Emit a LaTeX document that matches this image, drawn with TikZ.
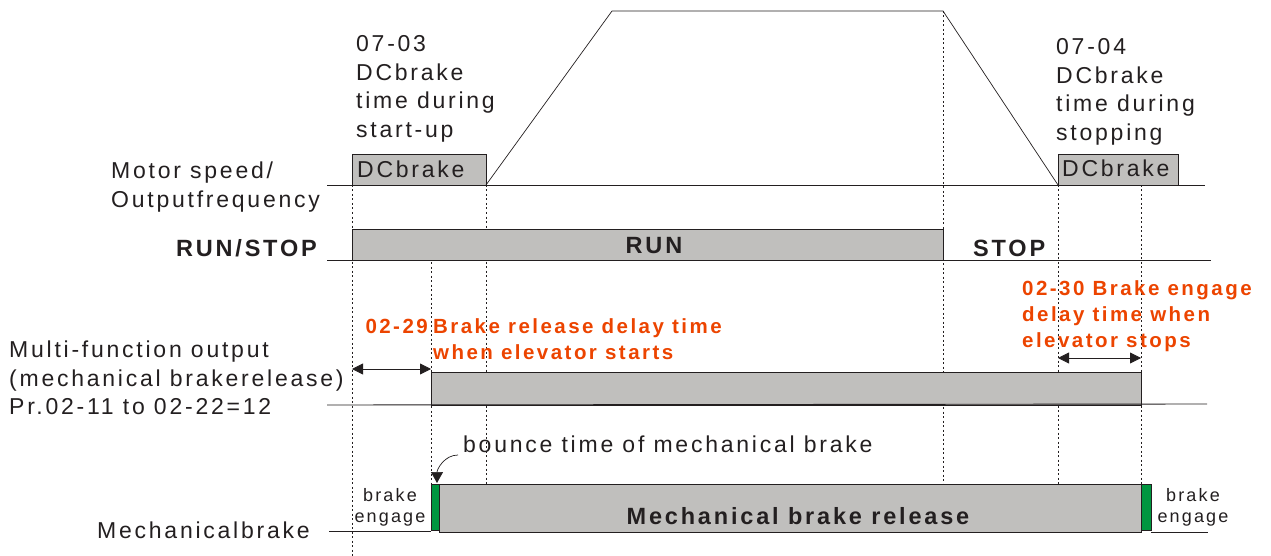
\documentclass[tikz,border=0pt]{standalone}
\usepackage{fontspec}
\setmainfont{Liberation Sans}[LetterSpace=12]
\usetikzlibrary{arrows.meta}
\definecolor{boxgray}{RGB}{192,191,189}
\definecolor{delayred}{RGB}{236,68,0}
\definecolor{bouncegreen}{RGB}{0,150,64}
\definecolor{inkblack}{RGB}{35,31,32}
\tikzset{
  lbl/.style={font=\fontsize{23}{28.5}\selectfont,text=inkblack,inner sep=0pt,align=left},
  boldlbl/.style={font=\fontsize{23.5}{28}\bfseries\selectfont,text=inkblack,inner sep=0pt},
  redlbl/.style={font=\fontsize{20.5}{26}\bfseries\selectfont,text=delayred,inner sep=0pt,align=left},
  smalllbl/.style={font=\fontsize{18}{21}\selectfont,text=inkblack,inner sep=0pt,align=center},
  sig/.style={draw=inkblack,line width=0.9pt},
  timeline/.style={draw=inkblack,line width=0.6pt,dash pattern=on 2pt off 2.5pt},
  delay/.style={draw=inkblack,line width=0.8pt,{Triangle[width=11pt,length=11pt]}-{Triangle[width=11pt,length=11pt]}},
}
\begin{document}
\begin{tikzpicture}[x=1pt,y=-1pt]
\useasboundingbox (0,0) rectangle (1271,556);
% time marks:
\path[timeline] (352,185) -- (352,556);
\path[timeline] (431,262) -- (431,484);
\path[timeline] (486,185) -- (486,484);
\path[timeline] (943,11) -- (943,484);
\path[timeline] (1058,185) -- (1058,484);
\path[timeline] (1141,185) -- (1141,484);
% motor speed:
\path[draw=inkblack,fill=boxgray,line width=0.8pt] (352,185) rectangle (486,154);
\path[draw=inkblack,fill=boxgray,line width=0.8pt] (1058,185) rectangle (1178,154);
\path[sig] (327,185) -- (1205,185);
\path[draw=inkblack,line width=0.7pt] (486,185) -- (612,11) -- (943,11) -- (1058,185);
% run/stop:
\path[draw=inkblack,fill=boxgray,line width=0.8pt] (352,260) rectangle (943,229);
\path[sig] (327,260) -- (1211,260);
% multi-function output:
\path[draw=inkblack,fill=boxgray,line width=0.8pt] (431,405) rectangle (1141,372);
\path[sig] (327,405) -- (1207,404);
% mechanical brake:
\path[draw=inkblack,fill=boxgray,line width=0.8pt] (439,532) rectangle (1141,484);
\path[draw=inkblack,fill=bouncegreen,line width=0.8pt] (431,530) rectangle (439,484);
\path[draw=inkblack,fill=bouncegreen,line width=0.8pt] (1141,530) rectangle (1151,484);
\path[sig] (329,531) -- (431,531);
\path[sig] (1151,532) -- (1208,532);

% labels
\node[lbl,anchor=north west] (dcup) at (356,35.5) {07-03\\DCbrake\\time during\\start-up};
\node[lbl,anchor=north west] (dcdown) at (1056,38.5) {07-04\\DCbrake\\time during\\stopping};
\node[lbl,anchor=base west] (dcupbox) at (357,178) {DCbrake};
\node[lbl,anchor=base west] (dcdownbox) at (1062,177) {DCbrake};
\node[lbl,anchor=north west] (speed) at (111,162) {Motor speed/\\Outputfrequency};
\node[boldlbl,anchor=base east] (runstop) at (317,256) {RUN/STOP};
\node[boldlbl,anchor=base] (run) at (654,253) {RUN};
\node[boldlbl,anchor=base west] (stop) at (973,256) {STOP};
\node[lbl,anchor=north west] (mfo) at (9,341) {Multi-function output\\(mechanical brakerelease)\\Pr.02-11 to 02-22=12};
\node[redlbl,anchor=base east] (relno) at (428,333) {02-29};
\node[redlbl,anchor=north west] (reltxt) at (433,318.5) {Brake release delay time\\when elevator starts};
\node[redlbl,anchor=north west] (engtxt) at (1022,280.5) {02-30 Brake engage\\delay time when\\elevator stops};
\node[lbl,anchor=base west] (bounce) at (463,452) {bounce time of mechanical brake};
\node[lbl,anchor=base west] (mech) at (97,538) {Mechanicalbrake};
\node[boldlbl,anchor=base] (mechrel) at (798,524) {Mechanical brake release};
\node[smalllbl,anchor=north] (engl) at (390,488) {brake\\engage};
\node[smalllbl,anchor=north] (engr) at (1193,488) {brake\\engage};

% delay arrows
\coordinate (rel0) at (352,369);
\coordinate (rel1) at (431,369);
\coordinate (eng0) at (1058,358);
\coordinate (eng1) at (1141,358);
\coordinate (bouncetip) at (437,483);
\path[delay] (rel0) -- (rel1);
\path[delay] (eng0) -- (eng1);
\draw[inkblack,line width=0.7pt,-{Triangle[width=12pt,length=11pt]}] ([xshift=-5pt,yshift=-3pt]bounce.base west) to[out=180,in=90] (bouncetip);
\end{tikzpicture}
\end{document}
